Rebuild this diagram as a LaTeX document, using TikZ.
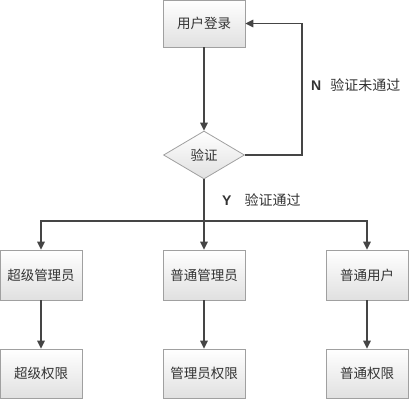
\documentclass[tikz,border=0pt]{standalone}
\usepackage{fontspec}
\newfontfamily\cjk{Noto Sans CJK SC}
\newfontfamily\lat{Liberation Sans}
\usetikzlibrary{shapes.geometric,arrows.meta}
\definecolor{ln}{HTML}{454545}
\definecolor{bd}{HTML}{A0A0A0}
\definecolor{tx}{HTML}{333333}
\tikzset{
  box/.style={draw=bd, line width=0.8pt, top color=white, bottom color=black!12,
    minimum width=82pt, minimum height=48pt, inner sep=0pt, text=tx,
    font=\cjk\fontsize{13.5}{13.5}\selectfont},
  dia/.style={diamond, draw=bd, line width=0.8pt, top color=white, bottom color=black!12,
    minimum width=81pt, minimum height=48pt, inner sep=0pt, aspect=1.7, text=tx,
    font=\cjk\fontsize{13.5}{13.5}\selectfont},
  arr/.style={draw=ln, line width=1.5pt, -{Triangle[width=7.5pt,length=8pt]}},
  plain/.style={draw=ln, line width=1.5pt},
  lbl/.style={text=tx, inner sep=0pt, anchor=west, font=\cjk\fontsize{14}{14}\selectfont}
}
\begin{document}
\begin{tikzpicture}[x=1pt,y=-1pt]
\useasboundingbox (0,0) rectangle (410,400);
\node[box, minimum height=47pt] (login) at (204,23.5) {用户登录};
\node[dia] (verify) at (204,155) {验证};
\node[box, minimum height=50pt] (a1) at (41,275) {超级管理员};
\node[box, minimum height=50pt] (b1) at (204,275) {普通管理员};
\node[box, minimum height=50pt] (c1) at (367,275) {普通用户};
\node[box, minimum height=49pt] (a2) at (41,373.5) {超级权限};
\node[box, minimum height=49pt] (b2) at (204,373.5) {管理员权限};
\node[box, minimum height=49pt] (c2) at (367,373.5) {普通权限};
\coordinate (fb) at (302,155);
\coordinate (split) at (204,221);
\draw[arr] (login) -- (verify);
\draw[arr] (verify.east) -- (fb) |- (login.east);
\draw[plain] (verify.south) -- (split);
\draw[arr] (split) -| (a1);
\draw[arr] (split) -- (b1);
\draw[arr] (split) -| (c1);
\draw[arr] (a1) -- (a2);
\draw[arr] (b1) -- (b2);
\draw[arr] (c1) -- (c2);
\node[lbl] (nl) at (311,85) {{\lat\bfseries N}\hspace{9pt}验证未通过};
\node[lbl] (yl) at (222,200) {{\lat\bfseries Y}\hspace{13pt}验证通过};
\end{tikzpicture}
\end{document}
